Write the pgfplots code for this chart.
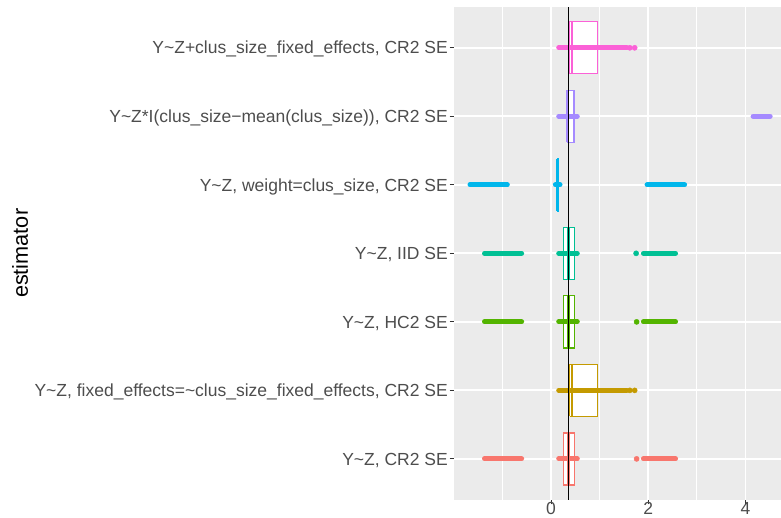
\documentclass[border=0pt]{standalone}
\usepackage{fontspec}
\setmainfont{Liberation Sans}
\usepackage{pgfplots}
\pgfplotsset{compat=1.18}
\definecolor{bggray}{HTML}{EBEBEB}
\definecolor{tickgray}{HTML}{333333}
\definecolor{labgray}{HTML}{4D4D4D}
\definecolor{ca}{HTML}{F8766D}
\definecolor{cb}{HTML}{C49A00}
\definecolor{cc}{HTML}{53B400}
\definecolor{cd}{HTML}{00C094}
\definecolor{ce}{HTML}{00B6EB}
\definecolor{cf}{HTML}{A58AFF}
\definecolor{cg}{HTML}{FB61D7}
\pgfplotstableread{
x0 x1 y0 y1 med col
0.253 0.479 0.62 1.38 0.36 1
}\dummytab
\begin{document}
\begin{tikzpicture}
\useasboundingbox (0,0) rectangle (781pt,518pt);
\begin{axis}[
  at={(454pt,18pt)}, anchor=south west,
  width=327pt, height=493.3pt, scale only axis,
  xmin=-1.994, xmax=4.728, ymin=0.4, ymax=7.6,
  axis background/.style={fill=bggray},
  axis line style={draw=none},
  xtick={0,2,4}, xticklabels={0,2,4},
  minor xtick={-1,1,3},
  ytick={1,2,3,4,5,6,7},
  yticklabels={
    {Y\textasciitilde Z, CR2 SE},
    {Y\textasciitilde Z, fixed\_effects=\textasciitilde clus\_size\_fixed\_effects, CR2 SE\ },
    {Y\textasciitilde Z, HC2 SE},
    {Y\textasciitilde Z, IID SE},
    {Y\textasciitilde Z, weight=clus\_size, CR2 SE},
    {Y\textasciitilde Z*I(clus\_size−mean(clus\_size)), CR2 SE},
    {Y\textasciitilde Z+clus\_size\_fixed\_effects, CR2 SE}},
  xmajorgrids, xminorgrids, ymajorgrids,
  major grid style={white, line width=1.8pt},
  minor grid style={white, line width=0.9pt},
  tick pos=left, tick align=outside,
  major tick length=4.4pt, minor tick length=0pt,
  tick style={color=tickgray, line width=1.0pt},
  ticklabel style={font=\fontsize{17.5pt}{20pt}\selectfont, text=labgray},
  yticklabel style={anchor=base east, inner sep=0pt, yshift=-6.2pt, xshift=-1.6pt},
  xticklabel style={anchor=north, inner sep=0pt, yshift=2pt},
  ylabel={estimator},
  ylabel style={at={(axis description cs:-1.327,0.5)}, anchor=center, rotate=0,
    font=\fontsize{21.7pt}{24pt}\selectfont, text=black},
  clip=false,
  boxfill/.style={draw=none, fill=white},
  boxline/.style={color=#1, line width=1.3pt, line join=miter, mark=none},
]
% ---- 1: Y~Z, CR2 SE
\addplot[boxfill] coordinates {(0.253,0.62) (0.479,0.62) (0.479,1.38) (0.253,1.38) (0.253,0.62)};
\addplot[boxline=ca] coordinates {(0.253,0.62) (0.479,0.62) (0.479,1.38) (0.253,1.38) (0.253,0.62)};
\addplot[color=ca, line width=2.4pt] coordinates {(0.36,0.62) (0.36,1.38)};
\addplot[color=ca, line width=5pt, line cap=round] coordinates {(-1.367,1) (-0.604,1)};
\addplot[color=ca, line width=5pt, line cap=round] coordinates {(0.159,1) (0.540,1)};
\addplot[color=ca, line width=5pt, line cap=round] coordinates {(1.90,1) (2.56,1)};
\addplot[only marks, mark=*, mark size=2.6pt, color=ca] coordinates {(1.76,1)};
% ---- 2: fixed effects
\addplot[boxfill] coordinates {(0.385,1.62) (0.95,1.62) (0.95,2.38) (0.385,2.38) (0.385,1.62)};
\addplot[boxline=cb] coordinates {(0.385,1.62) (0.95,1.62) (0.95,2.38) (0.385,2.38) (0.385,1.62)};
\addplot[color=cb, line width=2.4pt] coordinates {(0.43,1.62) (0.43,2.38)};
\addplot[color=cb, line width=5pt, line cap=round] coordinates {(0.159,2) (1.56,2)};
\addplot[only marks, mark=*, mark size=2.6pt, color=cb] coordinates {(1.62,2) (1.72,2)};
% ---- 3: HC2
\addplot[boxfill] coordinates {(0.253,2.62) (0.479,2.62) (0.479,3.38) (0.253,3.38) (0.253,2.62)};
\addplot[boxline=cc] coordinates {(0.253,2.62) (0.479,2.62) (0.479,3.38) (0.253,3.38) (0.253,2.62)};
\addplot[color=cc, line width=2.4pt] coordinates {(0.36,2.62) (0.36,3.38)};
\addplot[color=cc, line width=5pt, line cap=round] coordinates {(-1.367,3) (-0.604,3)};
\addplot[color=cc, line width=5pt, line cap=round] coordinates {(0.159,3) (0.540,3)};
\addplot[color=cc, line width=5pt, line cap=round] coordinates {(1.90,3) (2.56,3)};
\addplot[only marks, mark=*, mark size=2.6pt, color=cc] coordinates {(1.76,3)};
% ---- 4: IID
\addplot[boxfill] coordinates {(0.253,3.62) (0.479,3.62) (0.479,4.38) (0.253,4.38) (0.253,3.62)};
\addplot[boxline=cd] coordinates {(0.253,3.62) (0.479,3.62) (0.479,4.38) (0.253,4.38) (0.253,3.62)};
\addplot[color=cd, line width=2.4pt] coordinates {(0.36,3.62) (0.36,4.38)};
\addplot[color=cd, line width=5pt, line cap=round] coordinates {(-1.367,4) (-0.604,4)};
\addplot[color=cd, line width=5pt, line cap=round] coordinates {(0.159,4) (0.540,4)};
\addplot[color=cd, line width=5pt, line cap=round] coordinates {(1.90,4) (2.56,4)};
\addplot[only marks, mark=*, mark size=2.6pt, color=cd] coordinates {(1.75,4)};
% ---- 5: weight
\addplot[boxline=ce] coordinates {(0.132,4.62) (0.142,4.62) (0.142,5.38) (0.132,5.38) (0.132,4.62)};
\addplot[color=ce, line width=3.3pt] coordinates {(0.137,4.62) (0.137,5.38)};
\addplot[color=ce, line width=5pt, line cap=round] coordinates {(-1.665,5) (-0.898,5)};
\addplot[color=ce, line width=5pt, line cap=round] coordinates {(0.09,5) (0.185,5)};
\addplot[color=ce, line width=5pt, line cap=round] coordinates {(1.975,5) (2.746,5)};
% ---- 6: interaction
\addplot[boxfill] coordinates {(0.322,5.62) (0.472,5.62) (0.472,6.38) (0.322,6.38) (0.322,5.62)};
\addplot[boxline=cf] coordinates {(0.322,5.62) (0.472,5.62) (0.472,6.38) (0.322,6.38) (0.322,5.62)};
\addplot[color=cf, line width=2.4pt] coordinates {(0.345,5.62) (0.345,6.38)};
\addplot[color=cf, line width=5pt, line cap=round] coordinates {(0.159,6) (0.540,6)};
\addplot[color=cf, line width=5.6pt, line cap=round] coordinates {(4.16,6) (4.50,6)};
% ---- 7: fixed effects covariate
\addplot[boxfill] coordinates {(0.385,6.62) (0.95,6.62) (0.95,7.38) (0.385,7.38) (0.385,6.62)};
\addplot[boxline=cg] coordinates {(0.385,6.62) (0.95,6.62) (0.95,7.38) (0.385,7.38) (0.385,6.62)};
\addplot[color=cg, line width=2.4pt] coordinates {(0.43,6.62) (0.43,7.38)};
\addplot[color=cg, line width=5pt, line cap=round] coordinates {(0.159,7) (1.56,7)};
\addplot[only marks, mark=*, mark size=2.6pt, color=cg] coordinates {(1.62,7) (1.72,7)};
% ---- reference line
\addplot[black, line width=1.6pt] coordinates {(0.356,0.4) (0.356,7.6)};
\end{axis}
\end{tikzpicture}
\end{document}
